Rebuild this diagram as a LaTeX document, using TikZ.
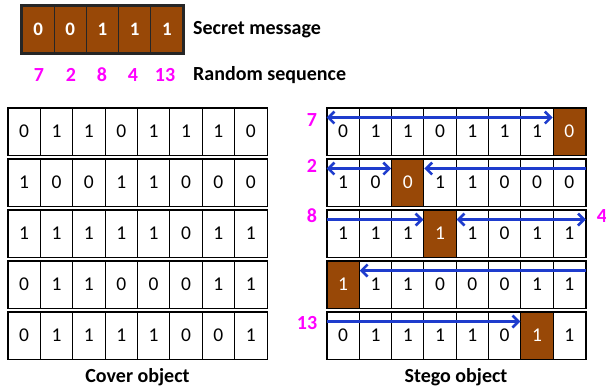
\documentclass[tikz,border=0pt]{standalone}
\usepackage{fontspec}
\setmainfont{Carlito}
\usetikzlibrary{arrows.meta,calc}
\definecolor{brownbox}{RGB}{152,72,7}
\definecolor{seqmag}{RGB}{255,0,255}
\definecolor{arrblue}{RGB}{30,60,205}
\begin{document}
\begin{tikzpicture}[x=1pt,y=-1pt,
  cell/.style={draw=black,line width=0.9pt,minimum width=32.3pt,minimum height=47pt,inner sep=0pt,font=\fontsize{19.5}{19.5}\selectfont},
  hid/.style={cell,fill=brownbox,text=white},
  secret/.style={draw=black!85,line width=1.2pt,fill=brownbox,text=white,minimum width=32.2pt,minimum height=47pt,inner sep=0pt,font=\bfseries\fontsize{19}{19}\selectfont},
  seq/.style={text=seqmag,font=\bfseries\fontsize{20}{20}\selectfont,inner sep=0pt},
  lbl/.style={font=\bfseries\fontsize{20}{20}\selectfont,inner sep=0pt},
  rowbox/.style={draw=black,line width=1.8pt},
  arr/.style={draw=arrblue,line width=2.6pt},
  >={Straight Barb[length=6pt,width=12pt]}]
\useasboundingbox (0,0) rectangle (606,390);
% secret message
\foreach \b [count=\c] in {0,0,1,1,1} {
  \node[secret] (m-\c) at ({22+(\c-0.5)*32.2},29.5) {\b};
}
\draw[draw=black!85,line width=2pt] (m-1.north west) rectangle (m-5.south east);
\node[lbl,anchor=west] (msglbl) at (193,29.5) {Secret message};
\foreach \n/\x [count=\c] in {7/39,2/71,8/102,4/133,13/165} {
  \node[seq] (q-\c) at (\x,75) {\n};
}
\node[lbl,anchor=west] (seqlbl) at (193,75) {Random sequence};
% cover object
\foreach \r/\bits in {1/{0,1,1,0,1,1,1,0},2/{1,0,0,1,1,0,0,0},3/{1,1,1,1,1,0,1,1},4/{0,1,1,0,0,0,1,1},5/{0,1,1,1,1,0,0,1}} {
  \foreach \b [count=\c] in \bits {
    \node[cell] (c-\r-\c) at ({8+(\c-0.5)*32.375},{131.5+(\r-1)*51}) {\b};
  }
  \draw[rowbox] (c-\r-1.north west) rectangle (c-\r-8.south east);
}
\node[lbl] (covlbl) at (137.5,377) {Cover object};
% stego object
\foreach \r/\bits/\h in {1/{0,1,1,0,1,1,1,0}/8,2/{1,0,0,1,1,0,0,0}/3,3/{1,1,1,1,1,0,1,1}/4,4/{1,1,1,0,0,0,1,1}/1,5/{0,1,1,1,1,0,1,1}/7} {
  \foreach \b [count=\c] in \bits {
    \ifnum\c=\h\relax\def\st{hid}\else\def\st{cell}\fi
    \node[\st] (s-\r-\c) at ({327+(\c-0.5)*32.3},{131.5+(\r-1)*51}) {\b};
  }
  \draw[rowbox] (s-\r-1.north west) rectangle (s-\r-8.south east);
  \coordinate (a-\r) at ($(s-\r-1.north west)+(0,10)$);
}
\node[lbl] (steglbl) at (456,377) {Stego object};
% random sequence labels on the stego object
\node[seq] (p-1) at (312,120) {7};
\node[seq] (p-2) at (312,166) {2};
\node[seq] (p-3) at (312,216) {8};
\node[seq] (p-4) at (602,216) {4};
\node[seq] (p-5) at (307,323) {13};
% arrows
\draw[arr,<->] (a-1) -- (s-1-8.west |- a-1);
\draw[arr,<->] (a-2) -- (s-2-3.west |- a-2);
\draw[arr,<-] (s-2-3.east |- a-2) -- (s-2-8.east |- a-2);
\draw[arr,->] (a-3) -- (s-3-4.west |- a-3);
\draw[arr,<->] (s-3-4.east |- a-3) -- (s-3-8.east |- a-3);
\draw[arr,<-] (s-4-1.east |- a-4) -- (s-4-8.east |- a-4);
\draw[arr,->] (a-5) -- (s-5-7.west |- a-5);
\end{tikzpicture}
\end{document}
